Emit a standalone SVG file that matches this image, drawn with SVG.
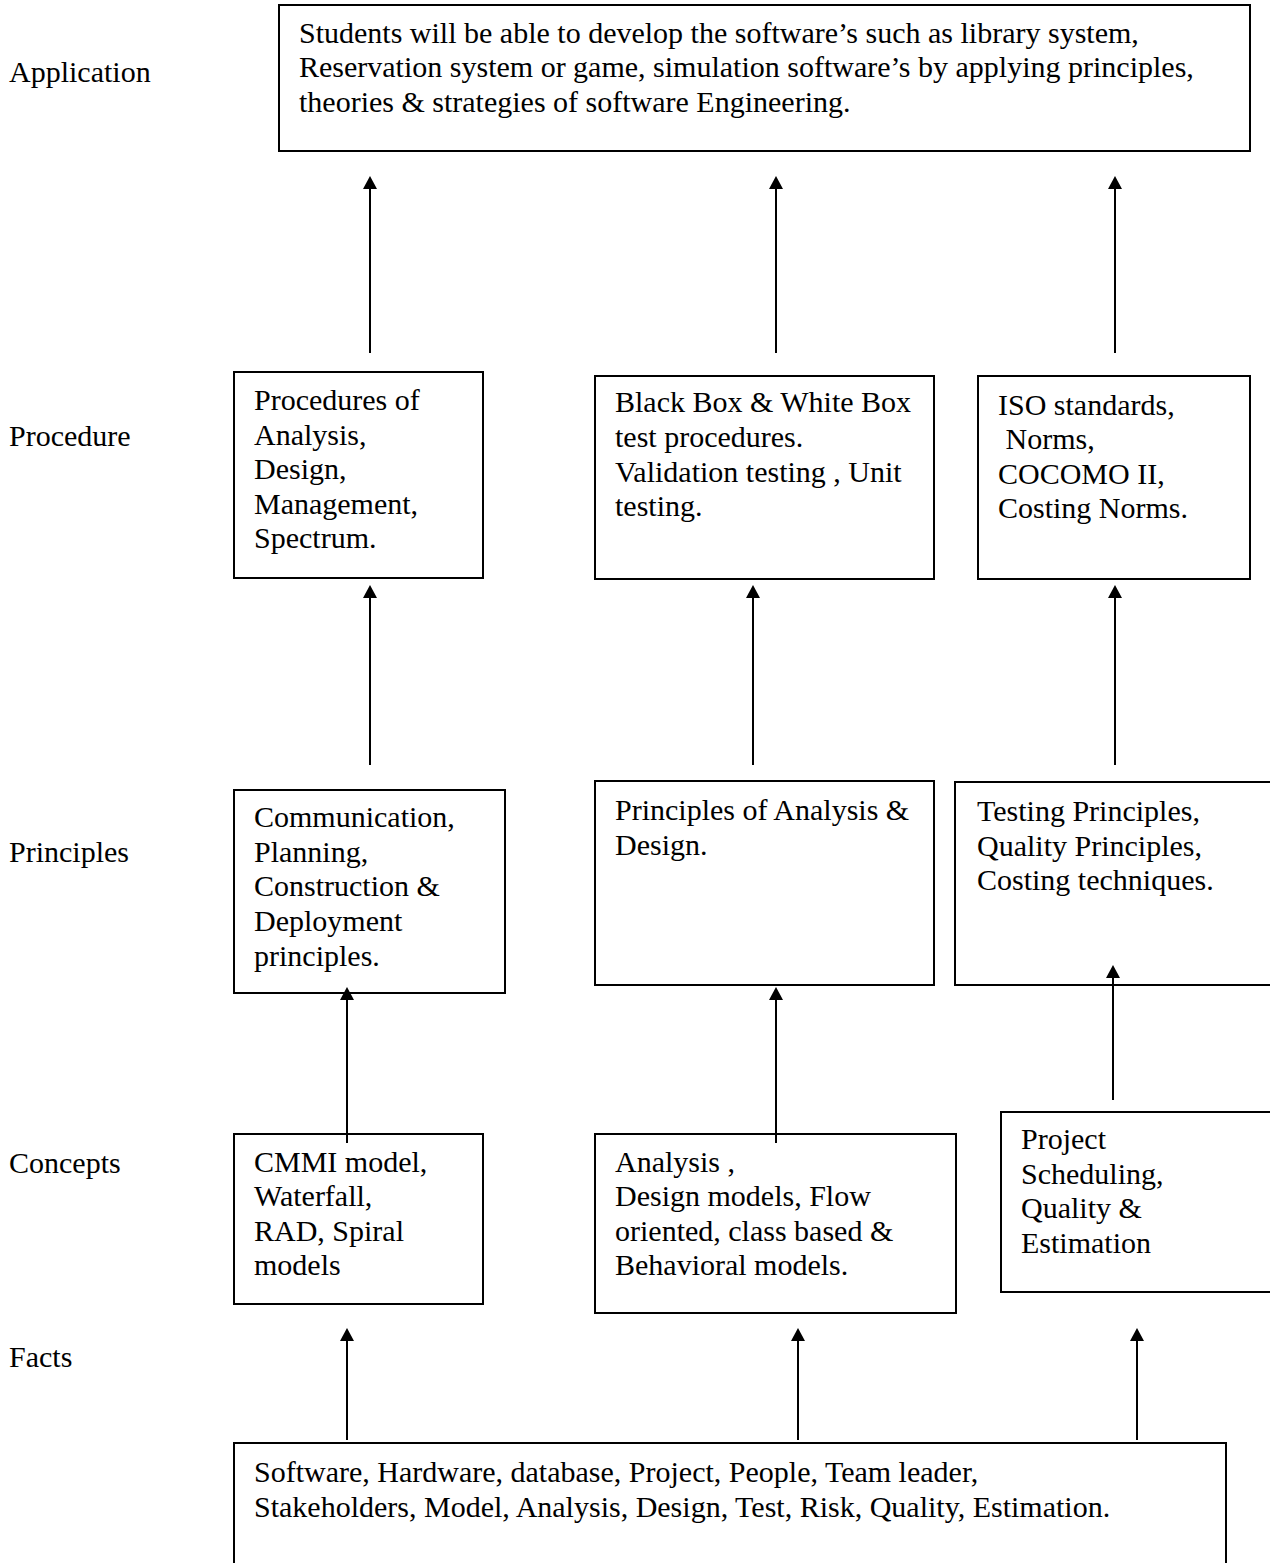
<svg xmlns="http://www.w3.org/2000/svg" width="1270" height="1563" viewBox="0 0 1270 1563">
<style>
text{font-family:"Liberation Serif","Times New Roman",serif;font-size:30px;fill:#000}
.box{fill:#fff;stroke:#000;stroke-width:2}
.conn{stroke:#000;stroke-width:2;fill:none;marker-end:url(#ah)}
</style>
<defs>
<marker id="ah" markerUnits="userSpaceOnUse" viewBox="0 0 13 14" refX="11" refY="7" markerWidth="13" markerHeight="14" orient="auto">
<path d="M0,0 L13,7 L0,14 z" fill="#000"/>
</marker>
</defs>
<rect width="1270" height="1563" fill="#fff"/>
<g id="labels">
<text x="9" y="82">Application</text>
<text x="9" y="446">Procedure</text>
<text x="9" y="862">Principles</text>
<text x="9" y="1173">Concepts</text>
<text x="9" y="1367">Facts</text>
</g>
<g id="app">
<rect class="box" x="279" y="5" width="971" height="146"/>
<text x="299" y="43">Students will be able to develop the software’s such as library system,</text>
<text x="299" y="77">Reservation system or game, simulation software’s by applying principles,</text>
<text x="299" y="112">theories &amp; strategies of software Engineering.</text>
</g>
<g id="proc1">
<rect class="box" x="234" y="372" width="249" height="206"/>
<text x="254" y="410">Procedures of</text>
<text x="254" y="445">Analysis,</text>
<text x="254" y="479">Design,</text>
<text x="254" y="514">Management,</text>
<text x="254" y="548">Spectrum.</text>
</g>
<g id="proc2">
<rect class="box" x="595" y="376" width="339" height="203"/>
<text x="615" y="412">Black Box &amp; White Box</text>
<text x="615" y="447">test procedures.</text>
<text x="615" y="482">Validation testing , Unit</text>
<text x="615" y="516">testing.</text>
</g>
<g id="proc3">
<rect class="box" x="978" y="376" width="272" height="203"/>
<text x="998" y="415">ISO standards,</text>
<text x="998" y="449" xml:space="preserve"> Norms,</text>
<text x="998" y="484">COCOMO II,</text>
<text x="998" y="518">Costing Norms.</text>
</g>
<g id="prin1">
<rect class="box" x="234" y="790" width="271" height="203"/>
<text x="254" y="827">Communication,</text>
<text x="254" y="862">Planning,</text>
<text x="254" y="896">Construction &amp;</text>
<text x="254" y="931">Deployment</text>
<text x="254" y="966">principles.</text>
</g>
<g id="prin2">
<rect class="box" x="595" y="781" width="339" height="204"/>
<text x="615" y="820">Principles of Analysis &amp;</text>
<text x="615" y="855">Design.</text>
</g>
<g id="prin3">
<rect class="box" x="955" y="782" width="330" height="203"/>
<text x="977" y="821">Testing Principles,</text>
<text x="977" y="856">Quality Principles,</text>
<text x="977" y="890">Costing techniques.</text>
</g>
<g id="conc1">
<rect class="box" x="234" y="1134" width="249" height="170"/>
<text x="254" y="1172">CMMI model,</text>
<text x="254" y="1206">Waterfall,</text>
<text x="254" y="1241">RAD, Spiral</text>
<text x="254" y="1275">models</text>
</g>
<g id="conc2">
<rect class="box" x="595" y="1134" width="361" height="179"/>
<text x="615" y="1172">Analysis ,</text>
<text x="615" y="1206">Design models, Flow</text>
<text x="615" y="1241">oriented, class based &amp;</text>
<text x="615" y="1275">Behavioral models.</text>
</g>
<g id="conc3">
<rect class="box" x="1001" y="1112" width="290" height="180"/>
<text x="1021" y="1149">Project</text>
<text x="1021" y="1184">Scheduling,</text>
<text x="1021" y="1218">Quality &amp;</text>
<text x="1021" y="1253">Estimation</text>
</g>
<g id="facts">
<rect class="box" x="234" y="1443" width="992" height="140"/>
<text x="254" y="1482">Software, Hardware, database, Project, People, Team leader,</text>
<text x="254" y="1517">Stakeholders, Model, Analysis, Design, Test, Risk, Quality, Estimation.</text>
</g>
<g id="connectors">
<line class="conn" x1="370" y1="353" x2="370" y2="178"/>
<line class="conn" x1="776" y1="353" x2="776" y2="178"/>
<line class="conn" x1="1115" y1="353" x2="1115" y2="178"/>
<line class="conn" x1="370" y1="765" x2="370" y2="587"/>
<line class="conn" x1="753" y1="765" x2="753" y2="587"/>
<line class="conn" x1="1115" y1="765" x2="1115" y2="587"/>
<line class="conn" x1="347" y1="1143" x2="347" y2="989"/>
<line class="conn" x1="776" y1="1143" x2="776" y2="989"/>
<line class="conn" x1="1113" y1="1100" x2="1113" y2="967"/>
<line class="conn" x1="347" y1="1440" x2="347" y2="1330"/>
<line class="conn" x1="798" y1="1440" x2="798" y2="1330"/>
<line class="conn" x1="1137" y1="1440" x2="1137" y2="1330"/>
</g>
</svg>
